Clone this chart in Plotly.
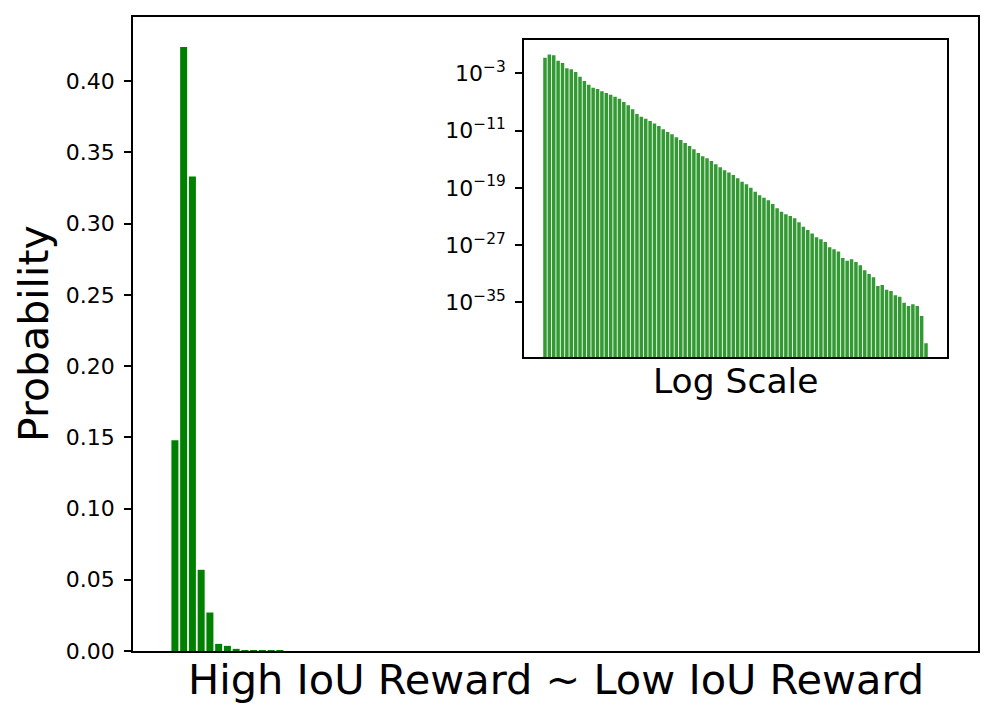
import plotly.graph_objects as go

# probability of each IoU-reward bin, from high IoU reward to low IoU reward
probs = [
    1.48e-1, 4.24e-1, 3.33e-1, 5.7e-2, 2.7e-2, 5.0e-3, 3.6e-3, 1.5e-3,
    3.4e-4, 8.3e-5, 2.6e-5, 9.8e-6, 6.5e-6, 3.0e-6, 1.8e-6, 1.0e-6,
    5.4e-7, 2.8e-7, 9.8e-8, 3.5e-8, 9.3e-9, 2.1e-9, 8.7e-10, 4.6e-10,
    2.1e-10, 1.0e-10, 4.4e-11, 1.5e-11, 6.3e-12, 3.0e-12, 1.15e-12, 4.8e-13,
    1.8e-13, 6.9e-14, 2.4e-14, 7.2e-15, 2.5e-15, 1.3e-15, 5.5e-16, 1.9e-16,
    7.2e-17, 2.75e-17, 1.4e-17, 6.2e-18, 2.1e-18, 7.1e-19, 3.1e-19, 1.0e-19,
    2.8e-20, 8.9e-21, 4.2e-21, 1.8e-21, 5.5e-22, 1.35e-22, 4.6e-23, 2.0e-23,
    1.15e-23, 5.5e-24, 1.5e-24, 3.6e-25, 1.26e-25, 4.2e-26, 1.26e-26, 6.3e-27,
    2.6e-27, 4.8e-28, 2.5e-28, 1.3e-28, 1.55e-29, 6.5e-30, 1.0e-29, 4.3e-30,
    1.5e-30, 3.0e-31, 8.9e-32, 3.1e-32, 1.9e-33, 2.6e-33, 5.8e-34, 3.8e-34,
    9.5e-35, 6.0e-35, 8.7e-36, 3.0e-36, 5.2e-36, 3.0e-36, 1.2e-37, 1.9e-41,
]
bins = list(range(len(probs)))

main_yticks = [0.0, 0.05, 0.10, 0.15, 0.20, 0.25, 0.30, 0.35, 0.40]
log_yticks = [1e-3, 1e-11, 1e-19, 1e-27, 1e-35]
log_yticktext = ["10<sup>−3</sup>", "10<sup>−11</sup>", "10<sup>−19</sup>",
                 "10<sup>−27</sup>", "10<sup>−35</sup>"]

W, H = 996, 717
OFF = 8  # page body margin around the plot div
FONT = "DejaVu Sans"
LW = 1.6


def px_x(v):
    return (v - OFF) / W


def px_y(v):
    return 1 - (v - OFF) / H


fig = go.Figure()

# main histogram
fig.add_trace(go.Bar(
    x=bins, y=probs, width=0.8,
    marker=dict(color="#008000", line=dict(width=0)),
    xaxis="x", yaxis="y", showlegend=False,
))

# log-scale inset
fig.add_trace(go.Bar(
    x=bins, y=probs, width=0.8,
    marker=dict(color="rgba(0,128,0,0.8)", line=dict(width=0)),
    xaxis="x2", yaxis="y2", showlegend=False,
))

n = len(probs)
pad = 0.05 * (n - 1 + 0.8)
xrange_ = [-0.4 - pad, n - 1 + 0.4 + pad]

axis_common = dict(
    showline=True, mirror=True, linecolor="black", linewidth=LW,
    showgrid=False, zeroline=False, automargin=False,
)

fig.update_layout(
    width=W, height=H, autosize=False,
    margin=dict(l=0, r=0, t=0, b=0, pad=0, autoexpand=False),
    paper_bgcolor="white", plot_bgcolor="white",
    font=dict(family=FONT, color="black"),
    bargap=0.2,
    xaxis=dict(
        domain=[px_x(133), px_x(978)], range=xrange_,
        showticklabels=False, ticks="", anchor="y", **axis_common,
    ),
    yaxis=dict(
        domain=[px_y(651), px_y(17)], range=[0, 0.445],
        tickvals=main_yticks, tickformat=".2f",
        ticks="outside", ticklen=7, tickwidth=LW, tickcolor="black",
        tickfont=dict(size=22, family=FONT), ticklabelstandoff=5,
        anchor="x", **axis_common,
    ),
    xaxis2=dict(
        domain=[px_x(524), px_x(947)], range=xrange_,
        showticklabels=False, ticks="", anchor="y2", **axis_common,
    ),
    yaxis2=dict(
        domain=[px_y(357), px_y(40)], type="log", range=[-42.64, 1.65],
        tickvals=log_yticks, ticktext=log_yticktext,
        ticks="outside", ticklen=7, tickwidth=LW, tickcolor="black",
        tickfont=dict(size=22, family=FONT), ticklabelstandoff=5,
        anchor="x2", **axis_common,
    ),
)

# axis labels
fig.add_annotation(
    text="High IoU Reward ~ Low IoU Reward",
    x=px_x(555.5), y=px_y(679), xref="paper", yref="paper",
    xanchor="center", yanchor="middle", showarrow=False,
    font=dict(size=41.5, family=FONT),
)
fig.add_annotation(
    text="Probability", textangle=-90,
    x=px_x(34), y=px_y(334), xref="paper", yref="paper",
    xanchor="center", yanchor="middle", showarrow=False,
    font=dict(size=41, family=FONT),
)
fig.add_annotation(
    text="Log Scale",
    x=px_x(735.5), y=px_y(381), xref="paper", yref="paper",
    xanchor="center", yanchor="middle", showarrow=False,
    font=dict(size=34.5, family=FONT),
)

fig.write_html("out.html", config={"responsive": False})
